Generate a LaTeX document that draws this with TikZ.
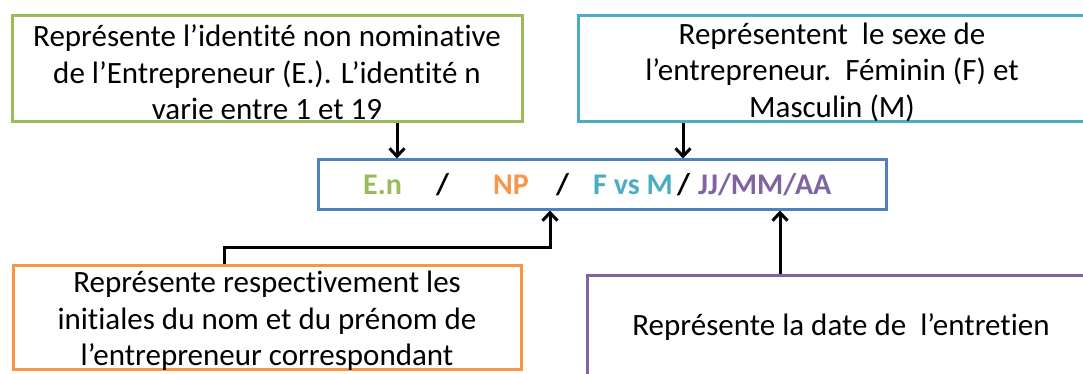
\documentclass[tikz,border=0pt]{standalone}
\usepackage{fontspec}
\setmainfont[Ligatures=NoCommon]{Carlito}
\usetikzlibrary{arrows.meta}
\definecolor{boxgreen}{HTML}{9BBB59}
\definecolor{boxcyan}{HTML}{4BACC6}
\definecolor{boxblue}{HTML}{4F81BD}
\definecolor{boxorange}{HTML}{F79646}
\definecolor{boxpurple}{HTML}{8064A2}
\begin{document}
\begin{tikzpicture}[x=1pt,y=-1pt,
  descbox/.style={draw, rectangle, line width=3pt, inner sep=0pt},
  desctext/.style={align=center, inner sep=0pt,
    font=\fontsize{31}{36.5}\selectfont},
  codepart/.style={anchor=base west, inner sep=0pt,
    font=\fontsize{30}{36}\selectfont\bfseries},
  arr/.style={line width=3pt, -{Straight Barb[length=8pt,width=15pt]}}]
\useasboundingbox (0,0) rectangle (1083,374);
\clip (0,0) rectangle (1083,374);

% explanatory boxes
\node[descbox, draw=boxgreen, minimum width=510pt, minimum height=106pt] (green) at (267,69) {};
\node[desctext] (greentext) at ([yshift=-3.5pt]green.center)
  {Représente l’identité non nominative\\ de l’Entrepreneur (E.). L’identité n\\ varie entre 1 et 19};
\node[descbox, draw=boxcyan, minimum width=508pt, minimum height=106pt] (cyan) at (832,69) {};
\node[desctext] (cyantext) at ([yshift=-3pt]cyan.center)
  {Représentent\ \ le sexe de\\ l’entrepreneur.\ \ Féminin (F) et\\ Masculin (M)};
\node[descbox, draw=boxorange, minimum width=508pt, minimum height=104pt] (orange) at (267,317) {};
\node[desctext] (orangetext) at ([yshift=-4pt]orange.center)
  {Représente respectivement les\\ initiales du nom et du prénom de\\ l’entrepreneur correspondant};
\node[descbox, draw=boxpurple, minimum width=508pt, minimum height=104pt] (purple) at (841,327) {};
\node[desctext] (purpletext) at (purple.center)
  {Représente la date de\ \ l’entretien};

% code box
\node[draw=boxblue, line width=3pt, rectangle, minimum width=568pt, minimum height=49pt] (main) at (602,184.5) {};
\node[codepart, text=boxgreen] (en) at (363,194) {E.n};
\node[codepart] (s1) at (436,194) {/};
\node[codepart, text=boxorange] (np) at (493,194) {NP};
\node[codepart] (s2) at (556,194) {/};
\node[codepart, text=boxcyan] (fm) at (593,194) {F vs M};
\node[codepart] (s3) at (677,194) {/};
\node[codepart, text=boxpurple] (date) at (698,194) {JJ/MM/AA};

% connectors
\draw[arr] (397,0 |- green.south) -- (397,0 |- main.north);
\draw[arr] (683,0 |- cyan.south) -- (683,0 |- main.north);
\draw[arr] (224,0 |- orange.north) -- (224,247) -- (550,247) -- (550,0 |- main.south);
\draw[arr] (780,0 |- purple.north) -- (780,0 |- main.south);
\end{tikzpicture}
\end{document}
